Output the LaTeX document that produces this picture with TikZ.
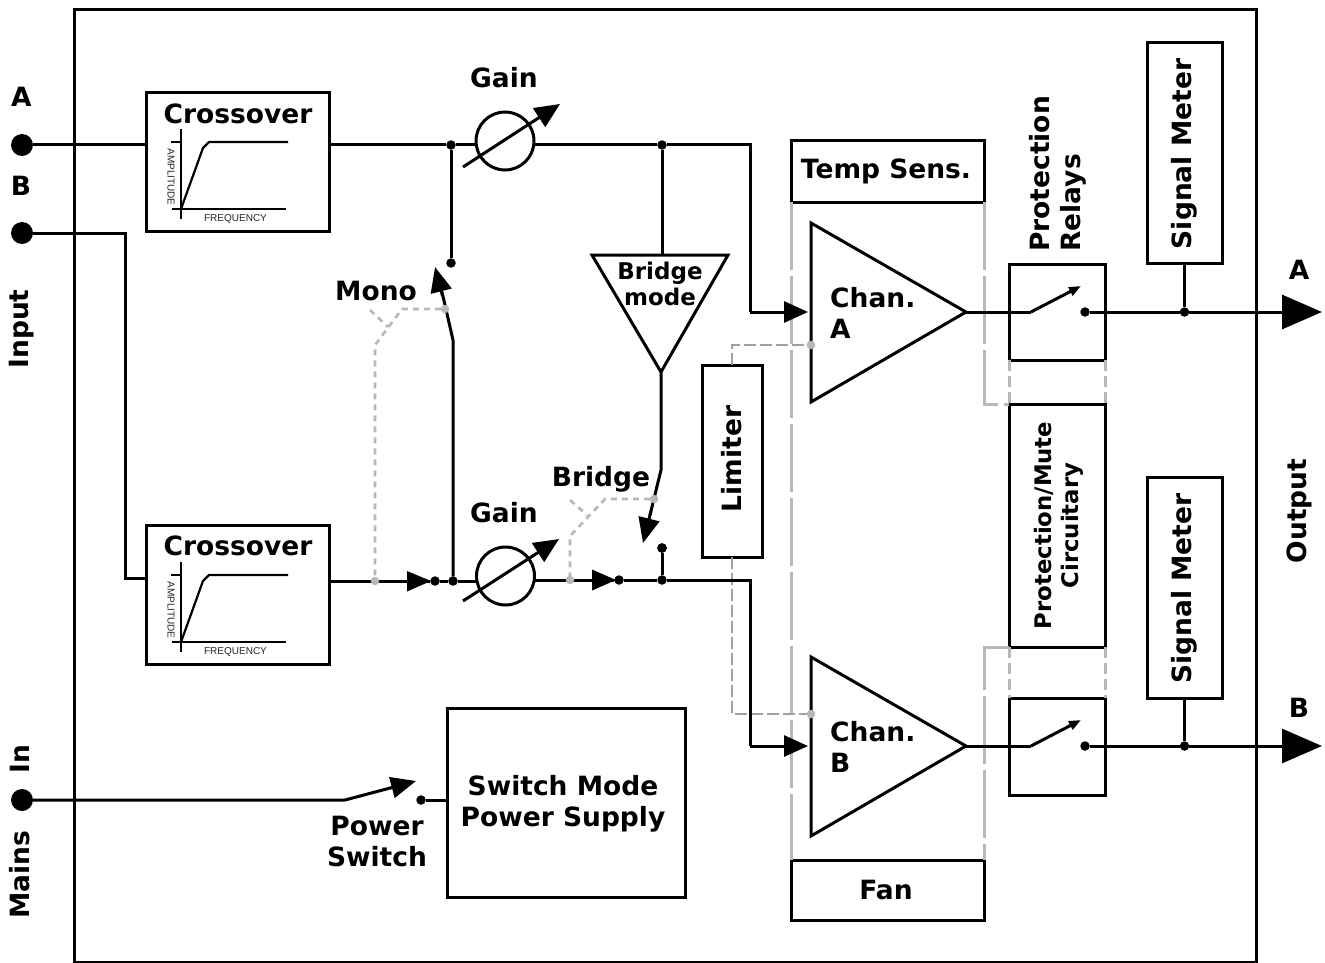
\documentclass[tikz,border=0pt]{standalone}
\usepackage{fontspec}
\setmainfont{DejaVu Sans}
\newfontfamily\graphfont{Liberation Sans}
\usetikzlibrary{arrows.meta}
\definecolor{lgray}{HTML}{B8B8B8}
\definecolor{mgray}{HTML}{A0A0A0}
\tikzset{
  wire/.style={line width=3pt,line join=miter},
  boxn/.style={draw,line width=3pt,fill=white,inner sep=0pt,outer sep=0pt},
  lab/.style={font=\fontsize{26.5}{31}\selectfont\bfseries,inner sep=0pt,align=center},
  dotn/.style={circle,fill=black,inner sep=0pt,minimum size=9.5pt,outer sep=0pt},
  termn/.style={circle,fill=black,inner sep=0pt,minimum size=22pt,outer sep=0pt},
  gdot/.style={circle,fill=lgray,inner sep=0pt,minimum size=8.5pt,outer sep=0pt},
  ctl/.style={line width=2.6pt,draw=lgray,dash pattern=on 6pt off 5pt},
  lim/.style={line width=2.8pt,draw=mgray,dash pattern=on 12pt off 4pt},
  rail/.style={line width=3pt,draw=lgray,dash pattern=on 68pt off 6pt},
  link/.style={line width=3pt,draw=lgray,dash pattern=on 11pt off 5pt},
  bigtip/.style={-{Triangle[length=24pt,width=21pt]}},
  outtip/.style={-{Triangle[length=40pt,width=34pt]}},
  swtip/.style={-{Triangle[length=25pt,width=21pt]}},
  gaintip/.style={-{Triangle[length=25pt,width=22pt]}},
  relaytip/.style={-{Triangle[length=12pt,width=9pt]}},
  tiny/.style={font=\fontsize{10}{11}\selectfont\graphfont,inner sep=0pt,text=black!85},
  gainring/.style={circle,draw,line width=3pt,fill=white,inner sep=0pt,minimum size=58pt,outer sep=0pt},
}
\begin{document}
\begin{tikzpicture}[x=1pt,y=-1pt]
\useasboundingbox (0,0) rectangle (1325,963);
\fill[white] (0,0) rectangle (1325,963);
\node[boxn,minimum width=1182pt,minimum height=952pt] (frame) at (665,486) {};

% named points
\node[termn] (ina) at (22,145) {};
\node[termn] (inb) at (22,233) {};
\node[termn] (mains) at (22,800) {};
\node[dotn] (j1) at (451,145) {};
\node[dotn] (monoT) at (451,263) {};
\node[dotn] (j2) at (662,145) {};
\coordinate (c1) at (750,145);
\coordinate (cAin) at (808,312);
\coordinate (bb) at (125,233);
\coordinate (bc) at (125,578);
\node[dotn] (s1) at (435,581) {};
\node[dotn] (j3) at (453,581) {};
\node[dotn] (s2) at (619,580) {};
\node[dotn] (j4) at (662,580) {};
\node[dotn] (brT) at (662,548) {};
\coordinate (c2) at (750,580);
\coordinate (cBin) at (808,746);
\coordinate (aTip) at (966,312);
\coordinate (bTip) at (966,746);
\coordinate (aSw) at (1031,312);
\coordinate (bSw) at (1031,746);
\coordinate (aOut) at (1322,312);
\coordinate (bOut) at (1322,746);
\coordinate (aHit) at (1081,286);
\coordinate (bHit) at (1081,720);
\coordinate (monoK) at (453,340);
\coordinate (monoH) at (435,267);
\coordinate (brK) at (661,470);
\coordinate (brH) at (643,543);
\coordinate (pwK) at (345,800);
\coordinate (pwH) at (416,781);
\node[dotn] (pwC) at (421,800) {};

% rails
\node[boxn,minimum width=193pt,minimum height=61pt] (temp) at (887.5,171.5) {};
\node[boxn,minimum width=193pt,minimum height=60pt] (fan) at (887.5,890) {};
\node[boxn,minimum width=96pt,minimum height=243pt] (prot) at (1057,525.5) {};
\draw[rail] (temp.south west) -- (fan.north west);
\draw[rail] (temp.south east) -- (temp.east |- prot.north) -- (prot.north west);
\draw[rail] (prot.south west) -- (prot.south west -| fan.east) -- (fan.north east);

% boxes
\node[boxn,minimum width=183pt,minimum height=138pt] (xa) at (237.5,162) {};
\node[boxn,minimum width=183pt,minimum height=139pt] (xb) at (237.5,594.5) {};
\node[boxn,minimum width=238pt,minimum height=189pt] (psu) at (566,802.5) {};
\node[boxn,minimum width=60pt,minimum height=192pt] (limit) at (732,461) {};
\node[boxn,minimum width=96pt,minimum height=96pt] (ra) at (1057,312) {};
\node[boxn,minimum width=96pt,minimum height=97pt] (rb) at (1057,746.5) {};
\node[boxn,minimum width=75pt,minimum height=220pt] (ma) at (1184.5,153) {};
\node[boxn,minimum width=75pt,minimum height=221pt] (mb) at (1184.5,587.5) {};
\node[dotn] (aC) at (1085,312) {};
\node[dotn] (bC) at (1085,746) {};
\node[dotn] (aM) at (1184.5,312) {};
\node[dotn] (bM) at (1184.5,746) {};

\draw[link] (ra.south west) -- (prot.north west);
\draw[link] (ra.south east) -- (prot.north east);
\draw[link] (prot.south west) -- (rb.north west);
\draw[link] (prot.south east) -- (rb.north east);

% limiter control
\node[gdot] (la) at (811,345) {};
\node[gdot] (lb) at (811,714) {};
\draw[lim] (limit.north) -- (limit.north |- la) -- (la);
\draw[lim] (limit.south) -- (limit.south |- lb) -- (lb);

% signal wires
\draw[wire] (ina) -- (ina -| xa.west);
\draw[wire] (inb) -- (bb) -- (bc) -- (bc -| xb.west);
\draw[wire] (xa.east |- ina) -- (j1) -- (476,145);
\draw[wire] (534,145) -- (j2) -- (c1) -- (c1 |- cAin);
\draw[wire,bigtip] (c1 |- cAin) -- (cAin);
\draw[wire] (j1) -- (monoT);
\draw[wire] (xb.east |- s1) -- (s1) -- (j3) -- (477,581);
\draw[wire] (j3) -- (monoK) -- (442,292);
\draw[wire,swtip] (442.5,296) -- (monoH);
\draw[wire] (534,580) -- (s2) -- (j4) -- (c2) -- (c2 |- cBin);
\draw[wire,bigtip] (c2 |- cBin) -- (cBin);
\draw[wire] (j4) -- (brT);
\node[dotn] at (brT) {};
\draw[wire] (j2) -- (662,255);
\draw[wire] (661,372) -- (brK) -- (650,515);
\draw[wire,swtip] (651,511) -- (brH);

% inline arrow heads
\fill (407,571) -- (431,581) -- (407,591.5) -- cycle;
\fill (592,569.5) -- (616,580) -- (592,590.5) -- cycle;

% gain pots
\node[gainring] (ga) at (505,141) {};
\node[gainring] (gb) at (505.5,576) {};
\draw[wire,gaintip] (463,167) -- (560,104);
\draw[wire,gaintip] (463,601) -- (559,539);

% bridge triangle and amps
\draw[line width=3pt,fill=white,line join=miter] (592,255) -- (728,255) -- (661,372) -- cycle;
\draw[line width=3pt,fill=white,line join=miter] (811,223) -- (aTip) -- (811,402) -- cycle;
\draw[line width=3pt,fill=white,line join=miter] (811,657) -- (bTip) -- (811,836) -- cycle;
\node[gdot] at (la) {};
\node[gdot] at (lb) {};

% output wires
\draw[wire] (aTip) -- (aSw);
\draw[wire,relaytip] (aSw) -- (aHit);
\draw[wire] (aC) -- (aM);
\draw[wire,outtip] (aM) -- (aOut);
\draw[wire] (ma.south) -- (aM);
\draw[wire] (bTip) -- (bSw);
\draw[wire,relaytip] (bSw) -- (bHit);
\draw[wire] (bC) -- (bM);
\draw[wire,outtip] (bM) -- (bOut);
\draw[wire] (mb.south) -- (bM);

% mains
\draw[wire] (mains) -- (pwK) -- (394,787);
\draw[wire,swtip] (390,788) -- (pwH);
\draw[wire] (pwC) -- (pwC -| psu.west);

% control dashes
\node[gdot] (mc1) at (445,309) {};
\node[gdot] (mc2) at (375,581) {};
\node[gdot] (bc1) at (654,499) {};
\node[gdot] (bc2) at (570,580) {};
\draw[ctl] (mc1) -- (402,309) -- (375,345) -- (mc2);
\draw[ctl] (370,310) -- (388,327);
\draw[ctl] (bc1) -- (605,499) -- (570,536) -- (bc2);
\draw[ctl] (570,500) -- (587,515);

% crossover graphs
\foreach \dy/\nm in {0/a,433/b}{
  \begin{scope}[yshift=-\dy pt]
    \draw[line width=2.2pt] (181,129) -- (181,219);
    \draw[line width=2.2pt] (172,209) -- (286,209);
    \draw[line width=2.2pt] (171,142) -- (181,142);
    \draw[line width=2.2pt,line join=round] (181,209) -- (203,148) -- (209,142) -- (288,142);
    \node[tiny,rotate=-90] (amp\nm) at (171,177) {AMPLITUDE};
    \node[tiny] (frq\nm) at (235.5,218.5) {FREQUENCY};
  \end{scope}
}

% labels
\node[lab] (t1) at (238,114) {Crossover};
\node[lab] (t2) at (238,546) {Crossover};
\node[lab] (t3) at (504,78) {Gain};
\node[lab] (t4) at (504,513) {Gain};
\node[lab] (t5) at (376,291) {Mono};
\node[lab] (t6) at (601,479.5) {Bridge};
\node[lab,font=\fontsize{23}{26}\selectfont\bfseries] (t7) at (660,284) {Bridge\\mode};
\node[lab,rotate=90] (t8) at (732,459) {Limiter};
\node[lab] (t9) at (886,171) {Temp Sens.};
\node[lab] (t10) at (886,890) {Fan};
\node[lab,align=left,anchor=west] (t11) at (830,313) {Chan.\\A};
\node[lab,align=left,anchor=west] (t12) at (830,747) {Chan.\\B};
\node[lab,rotate=90,align=left,anchor=west] (t13) at (1058,252) {Protection\\Relays};
\node[lab,rotate=90] (t14) at (1184,154) {Signal Meter};
\node[lab,rotate=90] (t15) at (1184,588.5) {Signal Meter};
\node[lab,rotate=90,font=\fontsize{22.8}{27}\selectfont\bfseries] (t16) at (1058.5,525.5) {Protection/Mute\\Circuitary};
\node[lab] (t17) at (563,803.5) {Switch Mode\\Power Supply};
\node[lab] (t18) at (377,842) {Power\\Switch};
\node[lab] (t19) at (21.5,97) {A};
\node[lab] (t20) at (21,186) {B};
\node[lab,rotate=90] (t21) at (22,329) {Input};
\node[lab,rotate=90] (t22) at (20,759) {In};
\node[lab,rotate=90] (t23) at (20,875) {Mains};
\node[lab,rotate=90] (t24) at (1299,511) {Output};
\node[lab] (t25) at (1299,270) {A};
\node[lab] (t26) at (1299,708) {B};
\end{tikzpicture}
\end{document}
